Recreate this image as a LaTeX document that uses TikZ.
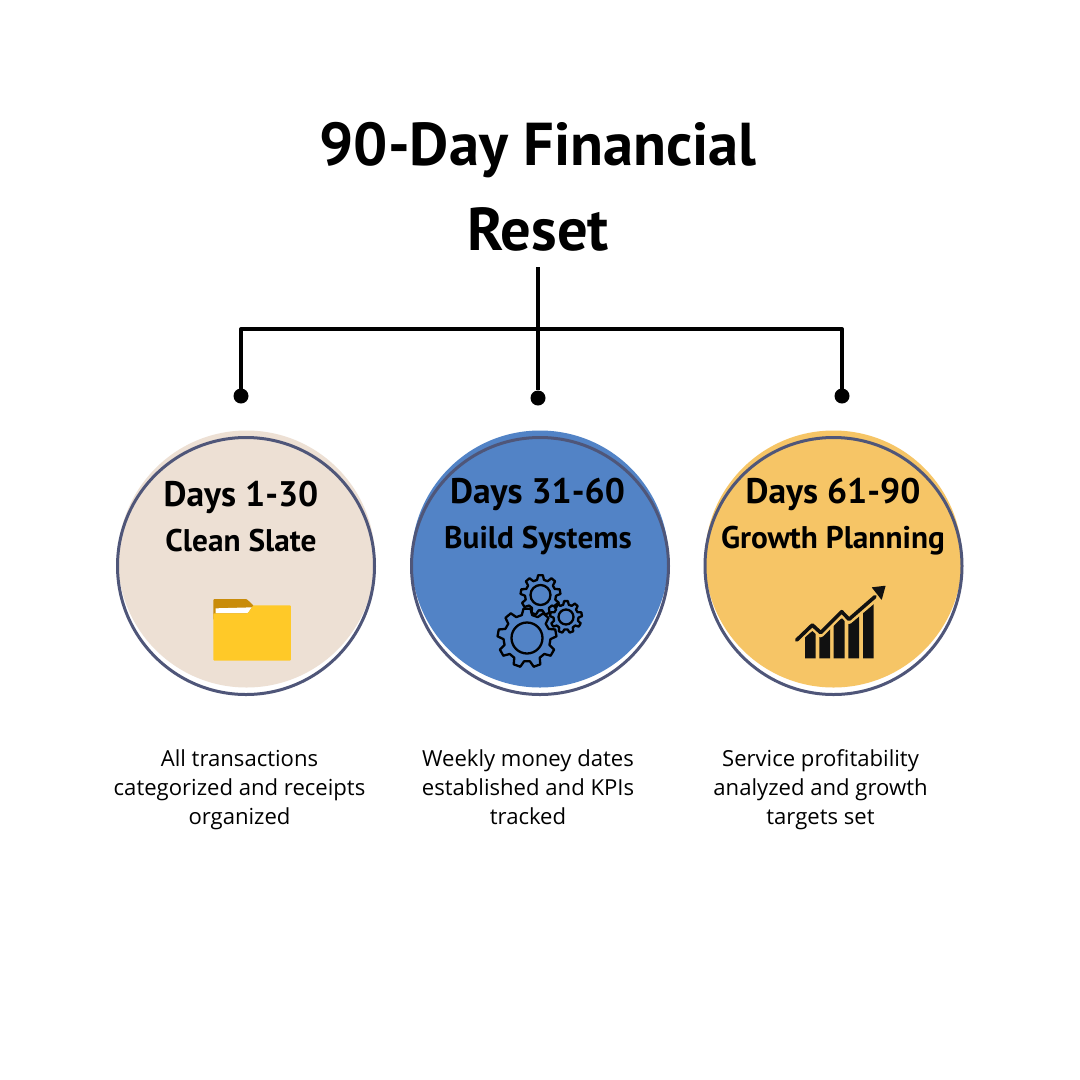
\documentclass[tikz,border=0pt]{standalone}
\usepackage{fontspec}
\setmainfont{Open Sans}
\newfontfamily\headfont{PT Sans}[BoldFont={PT Sans Bold}]
\newcommand{\Unit}{1pt}
\newcommand{\Edge}{3pt}
\definecolor{ink}{HTML}{000000}
\definecolor{ring}{HTML}{4F5679}
\definecolor{sand}{HTML}{EDE0D4}
\definecolor{sky}{HTML}{5283C6}
\definecolor{gold}{HTML}{F6C566}
\definecolor{folderback}{HTML}{C98C0A}
\definecolor{folderfront}{HTML}{FFC928}
\definecolor{barink}{HTML}{111111}
\tikzset{
  titletext/.style={font=\headfont\bfseries\fontsize{60.5}{60}\selectfont, text=ink},
  daystext/.style={font=\headfont\bfseries\fontsize{35.5}{35}\selectfont, text=ink},
  themetext/.style={font=\headfont\bfseries\fontsize{31.3}{31}\selectfont, text=ink},
  bodytext/.style={font=\fontsize{22.1}{29}\selectfont, align=center, text=ink},
  disc/.style={circle, minimum size=257pt, inner sep=0pt},
  ringline/.style={circle, draw=ring, line width=\Edge, minimum size=257pt, inner sep=0pt},
  dot/.style={circle, fill=ink, minimum size=15pt, inner sep=0pt},
  wire/.style={ink, line width=4pt},
  gearline/.style={ink, line width=2.3pt, line join=round},
}
% gear outline: centre x, centre y, outer radius, root radius, teeth, turn
\newcommand{\Gear}[6]{
  \pgfmathsetmacro\Pitch{360/#5}
  \draw[gearline] ({#1+#4*cos(#6-0.32*\Pitch)},{#2+#4*sin(#6-0.32*\Pitch)})
    \foreach \i in {1,...,#5} {
      -- ({#1+#3*cos(#6+(\i-1)*\Pitch-0.17*\Pitch)},{#2+#3*sin(#6+(\i-1)*\Pitch-0.17*\Pitch)})
      -- ({#1+#3*cos(#6+(\i-1)*\Pitch+0.17*\Pitch)},{#2+#3*sin(#6+(\i-1)*\Pitch+0.17*\Pitch)})
      -- ({#1+#4*cos(#6+(\i-1)*\Pitch+0.32*\Pitch)},{#2+#4*sin(#6+(\i-1)*\Pitch+0.32*\Pitch)})
      -- ({#1+#4*cos(#6+\i*\Pitch-0.32*\Pitch)},{#2+#4*sin(#6+\i*\Pitch-0.32*\Pitch)})
    } -- cycle;
}

\begin{document}
\begin{tikzpicture}[x=\Unit,y=-\Unit, line join=round]
  \useasboundingbox (0,0) rectangle (1080,1080);
  \fill[white] (0,0) rectangle (1080,1080);

  % ---- title --------------------------------------------------------------
  \node[titletext] (titleone) at (538,150) {90-Day Financial};
  \node[titletext] (titletwo) at (538,229) {Reset};

  % ---- connector tree -----------------------------------------------------
  \coordinate (stem) at (538,267);
  \coordinate (junction) at (538,329);
  \node[dot] (dotone) at (241,396) {};
  \node[dot] (dottwo) at (538,398) {};
  \node[dot] (dotthree) at (842,396) {};
  \draw[wire] (stem) -- (dottwo);
  \draw[wire, line width=3.4pt, line cap=rect] (dotone) |- (junction) -| (dotthree);

  % ---- discs, each with its ring sitting a little lower --------------------
  \node[disc, fill=sand] (discone) at (246.5,559) {};
  \node[disc, fill=sky] (disctwo) at (540,559) {};
  \node[disc, fill=gold] (discthree) at (833.5,559) {};
  \node[ringline] (ringone) at (246,566) {};
  \node[ringline] (ringtwo) at (540,566) {};
  \node[ringline] (ringthree) at (833.5,566) {};

  % ---- disc headings -------------------------------------------------------
  \node[daystext] (daysone) at (241,497) {Days 1-30};
  \node[themetext] (themeone) at (241,541) {Clean Slate};
  \node[daystext] (daystwo) at (537.5,494) {Days 31-60};
  \node[themetext] (themetwo) at (538,541) {Build Systems};
  \node[daystext] (daysthree) at (833,494) {Days 61-90};
  \node[themetext] (themethree) at (833,541) {Growth Planning};

  % ---- folder --------------------------------------------------------------
  \begin{scope}[shift={(100,420)}, x=\Unit/3, y=-\Unit/3]
    \fill[folderback, rounded corners=1pt] (340,600) -- (340,537) -- (440,537) -- (462,558) -- (462,600) -- cycle;
    \fill[white] (347,580) -- (347,565) -- (456,562) -- (443,580) -- cycle;
    \fill[folderfront, rounded corners=1pt] (340,722) -- (340,580) -- (443,580) -- (460,556) -- (573,556) -- (573,722) -- cycle;
  \end{scope}

  % ---- gears ---------------------------------------------------------------
  \Gear{527}{638}{29.5}{23.5}{9}{-90}
  \draw[gearline] (527,638) circle (15.5);
  \Gear{540.5}{595}{20}{15.5}{9}{-90}
  \draw[gearline] (540.5,595) circle (10);
  \Gear{566}{617}{16}{12.5}{9}{-90}
  \draw[gearline] (566,617) circle (7.5);

  % ---- chart ---------------------------------------------------------------
  \begin{scope}[shift={(780,570)}, x=\Unit/3, y=-\Unit/3]
    \fill[barink] (75,265) -- (75,195) -- (107,178) -- (107,265) -- cycle;
    \fill[barink] (118,265) -- (118,197) -- (150,172) -- (150,265) -- cycle;
    \fill[barink] (161,265) -- (161,160) -- (194,140) -- (194,265) -- cycle;
    \fill[barink] (205,265) -- (205,162) -- (237,135) -- (237,265) -- cycle;
    \fill[barink] (249,265) -- (249,125) -- (281,95) -- (281,265) -- cycle;
    \draw[gold, line width=6pt, line cap=round] (50,212) -- (97,170) -- (122,193) -- (185,130) -- (207,153) -- (285,87);
    \draw[barink, line width=3.6pt, line cap=round] (50,210) -- (97,165) -- (122,188) -- (185,125) -- (207,148) -- (285,80);
    \fill[barink, rounded corners=0.5pt] (275,52) -- (317,47) -- (305,90) -- cycle;
  \end{scope}

  % ---- captions ------------------------------------------------------------
  \node[bodytext] (captionone) at (239.5,790) {All transactions\\categorized and receipts\\organized};
  \node[bodytext] (captiontwo) at (528,787.5) {Weekly money dates\\established and KPIs\\tracked};
  \node[bodytext] (captionthree) at (820.5,790) {Service profitability\\analyzed and growth\\targets set};
\end{tikzpicture}
\end{document}
